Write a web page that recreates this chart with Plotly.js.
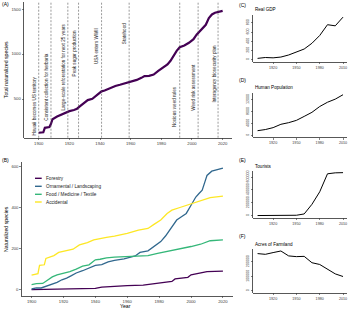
<!DOCTYPE html>
<html><head><meta charset="utf-8">
<script src="https://cdn.plot.ly/plotly-3.0.1.min.js"></script>
<style>html,body{margin:0;padding:0;background:#fff}#chart{width:350px;height:310px}</style>
</head><body><div id="chart"></div>
<script>
// ---------- Panel A: total naturalized species ----------
const totalYears = [1900,1902,1903,1904,1907,1908,1909,1912,1915,1918,1920,1923,1925,1927,1930,1932,1935,1937,1939,1941,1943,1946,1950,1953,1957,1960,1964,1967,1969,1972,1975,1978,1981,1984,1986,1988,1990,1992,1995,1998,2001,2003,2005,2007,2009,2011,2013,2015,2018,2020];
const totalSpecies = [125,128,130,180,188,225,275,305,330,355,365,378,392,420,458,488,502,528,562,585,595,618,645,658,675,692,712,735,755,758,772,812,845,885,925,985,1035,1075,1095,1125,1165,1215,1255,1290,1325,1400,1440,1458,1472,1480];
const eventYears = [1900,1908,1919,1926,1941,1959,1992,2004,2017];
const eventLabels = ["Hawaii becomes US territory","Consistent collection for herbaria","Large-scale reforestation for next 25 years","Peak sugar production","USA enters WWII","Statehood","Noxious weed rules","Weed risk assessment","Interagency biosecurity plan"];
const totalTicks = [500,1000,1500];
const mainYearTicks = [1900,1920,1940,1960,1980,2000,2020];

// ---------- Panel B: naturalized species by pathway ----------
const seriesNames = ["Forestry","Ornamental / Landscaping","Food / Medicine / Textile","Accidental"];
const forestryYears = [1900,1915,1930,1940,1944,1950,1960,1970,1975,1980,1985,1988,1990,1995,1998,2000,2003,2006,2010,2015,2020];
const forestry = [0,1,3,6,12,16,19,22,26,32,36,40,52,56,60,72,76,82,88,89,90];
const ornamentalYears = [1900,1903,1906,1909,1912,1916,1919,1922,1925,1928,1932,1936,1940,1944,1948,1952,1958,1965,1968,1973,1977,1981,1984,1988,1991,1994,1997,2000,2003,2005,2007,2009,2010,2013,2016,2020];
const ornamental = [3,8,8,16,24,35,48,56,68,81,92,105,118,122,135,142,150,164,181,189,210,234,261,306,339,355,371,411,451,468,484,532,556,577,585,592];
const foodYears = [1900,1903,1907,1910,1913,1916,1920,1924,1928,1932,1936,1940,1943,1947,1952,1958,1965,1973,1979,1985,1990,1995,2000,2006,2012,2020];
const food = [24,29,30,48,62,72,80,88,100,114,121,145,148,155,158,160,164,166,177,186,193,203,210,221,238,242];
const accidentalYears = [1900,1903,1904,1905,1908,1909,1911,1914,1917,1922,1926,1930,1935,1939,1943,1947,1952,1960,1967,1970,1973,1977,1981,1985,1988,1993,2000,2006,2012,2020];
const accidental = [71,74,78,118,121,152,158,166,181,189,197,218,229,242,250,255,261,274,290,295,298,319,339,371,387,400,419,435,448,455];
const naturalizedTicks = [0,200,400,600];

// ---------- Panels C-F ----------
const decadeYears = [1900,1910,1920,1930,1940,1950,1960,1970,1980,1990,2000,2010];
const realGDP = [26,45,38,55,100,160,230,355,525,760,735,925];
const population = [1540,1920,2560,3680,4230,5000,6330,7700,9650,11080,12120,13600];
const tourists = [200,500,800,1800,2500,4600,25000,175000,370000,650000,665000,668000];
const farmland = [256000,251000,263000,274000,240000,235000,237000,193000,181000,147000,116000,98000];
const smallYearTicks = [1920,1950,1980,2010];
const gdpTicks = [0,200,400,600,800];
const popTicks = [0,4000,8000,12000];
const touristTicks = [0,200000,400000,600000];
const farmTicks = [0,100000,200000];
const smallTitles = ["Real GDP","Human Population","Tourists","Acres of Farmland"];
const panelLetters = ["(A)","(B)","(C)","(D)","(E)","(F)"];

// ---------- layout helpers ----------
const W = 350, H = 310;
const px = v => v / W;
const py = v => 1 - v / H;
const FONT = "Liberation Sans, Arial, Helvetica, sans-serif";
const viridis = ["#440154","#31688E","#35B779","#FDE725"];
const TICKCOL = '#3a3a3a';

const axBase = () => ({
  showline:true, linecolor:'#111', linewidth:0.7, ticks:'outside', ticklen:2,
  tickwidth:0.6, tickcolor:'#333', showgrid:false, zeroline:false, fixedrange:true,
  tickfont:{family:FONT, size:4.2, color:TICKCOL}, tickmode:'array', tickformat:'d'
});
const expandRange = arr => { const m = Math.max(...arr); return [-0.05*m, 1.05*m]; };

const traces = [];
traces.push({x:totalYears, y:totalSpecies, xaxis:'x', yaxis:'y', mode:'lines',
  line:{color:viridis[0], width:2.2}, hoverinfo:'skip'});
const bX = [forestryYears, ornamentalYears, foodYears, accidentalYears];
const bY = [forestry, ornamental, food, accidental];
for (let i = 0; i < 4; i++) {
  traces.push({x:bX[i], y:bY[i], xaxis:'x2', yaxis:'y2', mode:'lines', name:seriesNames[i],
    line:{color:viridis[i], width:1.3}, hoverinfo:'skip'});
}
const smallData = [realGDP, population, tourists, farmland];
for (let i = 0; i < 4; i++) {
  traces.push({x:decadeYears, y:smallData[i], xaxis:'x'+(i+3), yaxis:'y'+(i+3), mode:'lines',
    line:{color:'#000', width:1}, hoverinfo:'skip'});
}

const layout = {
  width:W, height:H, margin:{l:0,r:0,t:0,b:0}, showlegend:false,
  paper_bgcolor:'#fff', plot_bgcolor:'rgba(0,0,0,0)', font:{family:FONT},
  xaxis: Object.assign(axBase(), {domain:[px(24.3), px(232)], range:[1890.6, 2026.1], anchor:'y', tickvals:mainYearTicks}),
  yaxis: Object.assign(axBase(), {domain:[py(137.7), py(2)], range:[70, 1578], anchor:'x', tickvals:totalTicks}),
  xaxis2: Object.assign(axBase(), {domain:[px(22), px(232.5)], range:[1894, 2026], anchor:'y2', tickvals:mainYearTicks}),
  yaxis2: Object.assign(axBase(), {domain:[py(295.7), py(162)], range:expandRange([...forestry,...ornamental,...food,...accidental]), anchor:'x2', tickvals:naturalizedTicks}),
  shapes:[], annotations:[]
};
const smallDomY = [[61.7,15],[137.3,92.7],[217.7,170.5],[292.7,249]];
const smallTicks = [gdpTicks, popTicks, touristTicks, farmTicks];
for (let i = 0; i < 4; i++) {
  const n = i + 3;
  layout['xaxis'+n] = Object.assign(axBase(), {domain:[px(253.3), px(347.3)], range:[1894.5, 2015.5], anchor:'y'+n, tickvals:smallYearTicks,
    tickfont:{family:FONT, size:3.7, color:TICKCOL}});
  layout['yaxis'+n] = Object.assign(axBase(), {domain:[py(smallDomY[i][0]), py(smallDomY[i][1])], range:expandRange(smallData[i]), anchor:'x'+n,
    tickvals:smallTicks[i], tickangle:-90, tickfont:{family:FONT, size:3.6, color:TICKCOL}});
}

// event lines and labels (panel A)
const labelBottoms = [81,248,359,741,878,1100,174,359,444];
eventYears.forEach((yr, i) => {
  layout.shapes.push({type:'line', xref:'x', yref:'y domain', x0:yr, x1:yr, y0:0, y1:1,
    line:{color:'#555', width:0.6, dash:'2px,1.5px'}});
  layout.annotations.push({xref:'x', yref:'y', x:yr, y:labelBottoms[i], text:eventLabels[i], textangle:-90,
    xanchor:'right', yanchor:'bottom', xshift:-1, showarrow:false, borderpad:0,
    font:{family:FONT, size:4.6, color:'#1a1a1a'}});
});

// manual legend (panel B)
const legY = [178.3,186.3,194.3,202];
seriesNames.forEach((nm, i) => {
  layout.shapes.push({type:'line', xref:'paper', yref:'paper', x0:px(35), x1:px(41.7), y0:py(legY[i]), y1:py(legY[i]),
    line:{color:viridis[i], width:1.4}});
  layout.annotations.push({xref:'paper', yref:'paper', x:px(45), y:py(legY[i]), text:nm, xanchor:'left', yanchor:'middle',
    showarrow:false, borderpad:0, font:{family:FONT, size:4.7, color:'#1a1a1a'}});
});

// axis titles
layout.annotations.push({xref:'paper', yref:'paper', x:px(6.7), y:py(69.5), xanchor:'center', yanchor:'middle', text:'Total naturalized species', textangle:-90,
  showarrow:false, borderpad:0, font:{family:FONT, size:5.2, color:'#000'}});
layout.annotations.push({xref:'paper', yref:'paper', x:px(6), y:py(229), xanchor:'center', yanchor:'middle', text:'Naturalized species', textangle:-90,
  showarrow:false, borderpad:0, font:{family:FONT, size:5.2, color:'#000'}});
layout.annotations.push({xref:'paper', yref:'paper', x:px(125), y:py(310), xanchor:'center', yanchor:'bottom', text:'Year',
  showarrow:false, borderpad:0, font:{family:FONT, size:5.2, color:'#000'}});

// panel letters
const letterPos = [[1,4],[1,160],[238,5],[238,80],[238,160],[238,236]];
panelLetters.forEach((t, i) => {
  layout.annotations.push({xref:'paper', yref:'paper', x:px(letterPos[i][0]), y:py(letterPos[i][1]), text:t,
    xanchor:'left', yanchor:'middle', showarrow:false, borderpad:0, font:{family:FONT, size:5, color:'#000'}});
});
// small titles
const titleY = [10,87.3,166,244.3];
smallTitles.forEach((t, i) => {
  layout.annotations.push({xref:'paper', yref:'paper', x:px(254), y:py(titleY[i]), text:t,
    xanchor:'left', yanchor:'middle', showarrow:false, borderpad:0, font:{family:FONT, size:4.6, color:'#000'}});
});

Plotly.newPlot('chart', traces, layout, {staticPlot:true, displayModeBar:false});
</script></body></html>
